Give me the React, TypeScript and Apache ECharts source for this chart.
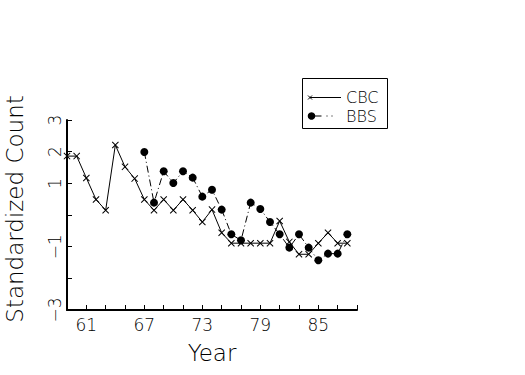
import React, { useEffect, useRef } from "react";
import * as echarts from "echarts";

const cbcYears = [59, 60, 61, 62, 63, 64, 65, 66, 67, 68, 69, 70, 71, 72, 73, 74, 75, 76, 77, 78, 79, 80, 81, 82, 83, 84, 85, 86, 87, 88];
const cbcValues = [1.86, 1.86, 1.17, 0.49, 0.15, 2.21, 1.52, 1.15, 0.49, 0.15, 0.49, 0.15, 0.49, 0.15, -0.22, 0.17, -0.56, -0.89, -0.89, -0.89, -0.89, -0.89, -0.19, -0.85, -1.24, -1.24, -0.89, -0.56, -0.89, -0.89];
const bbsYears = [67, 68, 69, 70, 71, 72, 73, 74, 75, 76, 77, 78, 79, 80, 81, 82, 83, 84, 85, 86, 87, 88];
const bbsValues = [1.99, 0.39, 1.38, 1.01, 1.38, 1.18, 0.58, 0.8, 0.17, -0.61, -0.8, 0.39, 0.19, -0.22, -0.61, -1.03, -0.61, -1.03, -1.43, -1.22, -1.22, -0.61];
const xTickLabels = [61, 67, 73, 79, 85];
const yTickLabels = [3, 2, 1, -1, -3];
const seriesNames = ["CBC", "BBS"];

const FONT = "'DejaVu Sans', sans-serif";
const CROSS = "path://M0,1L1,0L5,4L9,0L10,1L6,5L10,9L9,10L5,6L1,10L0,9L4,5Z";

export default function App() {
  const ref = useRef<HTMLDivElement>(null);
  useEffect(() => {
    if (!ref.current) return;
    const chart = echarts.init(ref.current, null, { renderer: "svg" });
    const fmtY = (v: number) => {
      if (!yTickLabels.includes(v)) return "";
      return v < 0 ? "\u2212" + Math.abs(v) : String(v);
    };
    chart.setOption({
      animation: false,
      backgroundColor: "#fff",
      textStyle: { fontFamily: FONT, fontWeight: 200, color: "#000" },
      grid: { left: 67, right: 168, top: 120, bottom: 65, containLabel: false, outerBoundsMode: "none" },
      xAxis: {
        type: "value",
        min: 59,
        max: 89,
        interval: 2,
        name: "Year",
        nameLocation: "middle",
        nameGap: 31,
        nameTextStyle: { fontSize: 23, fontFamily: FONT, fontWeight: 200, color: "#000" },
        axisLine: { show: true, onZero: false, lineStyle: { color: "#000", width: 2 } },
        axisTick: { show: true, inside: true, length: 5, lineStyle: { color: "#000", width: 1 } },
        axisLabel: {
          fontSize: 17,
          fontFamily: FONT,
          fontWeight: 200,
          color: "#000",
          margin: 6,
          formatter: (v: number) => (xTickLabels.includes(v) ? String(v) : ""),
        },
        splitLine: { show: false },
      },
      yAxis: {
        type: "value",
        min: -3,
        max: 3,
        interval: 1,
        name: "Standardized Count",
        nameLocation: "middle",
        nameGap: 41,
        nameRotate: 90,
        nameTextStyle: { fontSize: 23, fontFamily: FONT, fontWeight: 200, color: "#000", padding: [0, 0, 0, 12] },
        axisLine: { show: true, onZero: false, lineStyle: { color: "#000", width: 2 } },
        axisTick: { show: true, inside: true, length: 5, lineStyle: { color: "#000", width: 1 } },
        axisLabel: {
          rotate: 90,
          fontSize: 17,
          fontFamily: FONT,
          fontWeight: 200,
          color: "#000",
          margin: 4,
          formatter: fmtY,
        },
        splitLine: { show: false },
      },
      series: [
        {
          name: seriesNames[0],
          type: "line",
          data: cbcYears.map((y, i) => [y, cbcValues[i]]),
          symbol: CROSS,
          symbolSize: 7,
          itemStyle: { color: "#000" },
          lineStyle: { color: "#000", width: 1 },
        },
        {
          name: seriesNames[1],
          type: "line",
          data: bbsYears.map((y, i) => [y, bbsValues[i]]),
          symbol: "circle",
          symbolSize: 8,
          itemStyle: { color: "#000" },
          lineStyle: { color: "#000", width: 1, type: [7, 3, 1, 3] },
        },
      ],
      graphic: [
        {
          type: "group",
          silent: true,
          children: [
            {
              type: "rect",
              shape: { x: 302.5, y: 78.5, width: 85, height: 50 },
              style: { fill: "#fff", stroke: "#000", lineWidth: 1 },
            },
            {
              type: "line",
              shape: { x1: 310, y1: 97.5, x2: 341, y2: 97.5 },
              style: { stroke: "#000", lineWidth: 1 },
            },
            {
              type: "line",
              shape: { x1: 308, y1: 95.5, x2: 312, y2: 99.5 },
              style: { stroke: "#000", lineWidth: 1 },
            },
            {
              type: "line",
              shape: { x1: 308, y1: 99.5, x2: 312, y2: 95.5 },
              style: { stroke: "#000", lineWidth: 1 },
            },
            {
              type: "text",
              x: 346,
              y: 97.5,
              style: { text: seriesNames[0], fontSize: 16, fontFamily: FONT, fontWeight: 200, fill: "#000", verticalAlign: "middle", align: "left" },
            },
            {
              type: "line",
              shape: { x1: 311.5, y1: 116, x2: 336, y2: 116 },
              style: { stroke: "#000", lineWidth: 1, lineDash: [10, 5, 1, 4, 1, 30] },
            },
            {
              type: "circle",
              shape: { cx: 311.5, cy: 116, r: 3.8 },
              style: { fill: "#000" },
            },
            {
              type: "text",
              x: 346,
              y: 116,
              style: { text: seriesNames[1], fontSize: 16, fontFamily: FONT, fontWeight: 200, fill: "#000", verticalAlign: "middle", align: "left" },
            },
          ],
        },
      ],
    });
    return () => chart.dispose();
  }, []);
  return <div ref={ref} style={{ position: "fixed", left: 0, top: 0, width: 525, height: 375 }} />;
}
